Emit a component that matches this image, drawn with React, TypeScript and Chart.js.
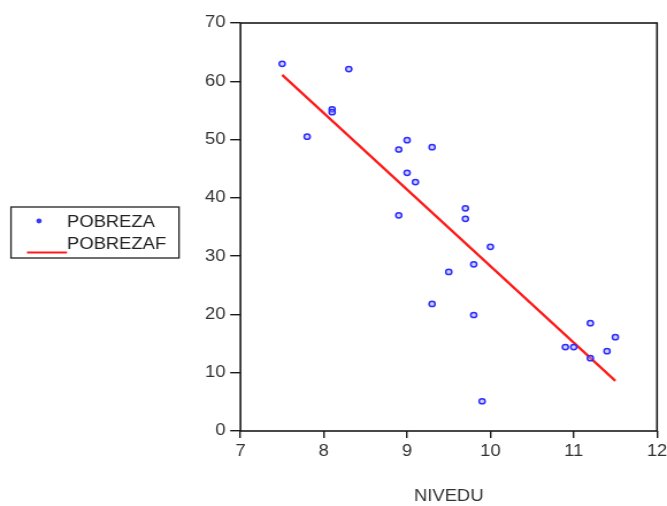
import React, { useEffect, useRef } from "react";
import { Chart, registerables } from "chart.js";

Chart.register(...registerables);

const nivedu = [7.5, 7.8, 8.1, 8.1, 8.3, 8.9, 8.9, 9.0, 9.0, 9.1, 9.3, 9.3, 9.5, 9.7, 9.7, 9.8, 9.8, 9.9, 10.0, 10.9, 11.0, 11.2, 11.2, 11.4, 11.5];
const pobreza = [63.0, 50.5, 55.2, 54.7, 62.1, 48.3, 37.0, 49.9, 44.3, 42.7, 48.7, 21.8, 27.3, 38.2, 36.4, 28.6, 19.9, 5.1, 31.6, 14.4, 14.4, 18.5, 12.5, 13.7, 16.1];
const fitX = [7.5, 11.5];
const fitY = [61.1, 8.6];
const seriesNames = ["POBREZA", "POBREZAF"];
const xTitle = "NIVEDU";

const W = 580;
const H = 506;
const SX = 667 / W;

const framePlugin = {
  id: "frame",
  afterDraw(chart: any) {
    const { ctx, chartArea } = chart;
    ctx.save();
    ctx.strokeStyle = "#1a1a1a";
    ctx.lineWidth = 1.6;
    ctx.strokeRect(chartArea.left, chartArea.top, chartArea.right - chartArea.left, chartArea.bottom - chartArea.top);
    // legend
    const bx = 11 / SX, bx2 = 179 / SX;
    ctx.lineWidth = 1.3;
    ctx.strokeStyle = "#222";
    ctx.strokeRect(bx, 207, bx2 - bx, 51);
    ctx.fillStyle = "#3a3aff";
    ctx.beginPath();
    ctx.arc(39 / SX, 221, 2.4, 0, Math.PI * 2);
    ctx.fill();
    ctx.strokeStyle = "#ff1a1a";
    ctx.lineWidth = 2;
    ctx.beginPath();
    ctx.moveTo(27 / SX, 252.5);
    ctx.lineTo(67 / SX, 252.5);
    ctx.stroke();
    ctx.fillStyle = "#222";
    ctx.font = '16px "Liberation Sans", Arial, sans-serif';
    ctx.textBaseline = "alphabetic";
    ctx.textAlign = "left";
    ctx.fillText(seriesNames[0], 67 / SX, 227);
    ctx.fillText(seriesNames[1], 67 / SX, 249);
    ctx.restore();
  },
};

export default function App() {
  const ref = useRef<HTMLCanvasElement>(null);
  useEffect(() => {
    if (!ref.current) return;
    const chart = new Chart(ref.current, {
      type: "scatter",
      data: {
        datasets: [
          {
            label: seriesNames[0],
            data: nivedu.map((x, i) => ({ x, y: pobreza[i] })),
            pointRadius: 2.6,
            pointBorderWidth: 1.5,
            borderColor: "#2d2dff",
            backgroundColor: "rgba(150,150,255,0.45)",
            showLine: false,
            order: 1,
          },
          {
            label: seriesNames[1],
            data: fitX.map((x, i) => ({ x, y: fitY[i] })),
            showLine: true,
            borderColor: "#ff1a1a",
            borderWidth: 2.2,
            pointRadius: 0,
            order: 2,
          },
        ],
      },
      options: {
        responsive: false,
        animation: false,
        devicePixelRatio: 1,
        layout: { padding: { left: 150, right: 580 - 657 / SX, top: 23, bottom: 0 } },
        plugins: { legend: { display: false }, tooltip: { enabled: false } },
        scales: {
          x: {
            type: "linear",
            min: 7,
            max: 12,
            afterFit: (s: any) => { s.height = 75; s.paddingRight = 0; s.paddingLeft = 0; },
            ticks: {
              stepSize: 1,
              color: "#333",
              padding: 4,
              font: { family: '"Liberation Sans", Arial, sans-serif', size: 16 },
            },
            grid: { drawOnChartArea: false, drawTicks: true, tickLength: 7, color: "#1a1a1a", lineWidth: 1.4 },
            border: { display: false },
            title: {
              display: true,
              text: xTitle,
              color: "#333",
              padding: 0,
              font: { family: '"Liberation Sans", Arial, sans-serif', size: 16 },
            },
          },
          y: {
            type: "linear",
            min: 0,
            max: 70,
            afterFit: (s: any) => { s.width = 240.5 / SX - 150; s.paddingTop = 0; s.paddingBottom = 0; },
            ticks: {
              stepSize: 10,
              color: "#333",
              padding: 4,
              font: { family: '"Liberation Sans", Arial, sans-serif', size: 16 },
            },
            grid: { drawOnChartArea: false, drawTicks: true, tickLength: 9, color: "#1a1a1a", lineWidth: 1.4 },
            border: { display: false },
          },
        },
      },
      plugins: [framePlugin],
    });
    return () => chart.destroy();
  }, []);
  return (
    <div style={{ position: "fixed", left: 0, top: 0, width: 667, height: 506, background: "#fff" }}>
      <canvas ref={ref} width={W} height={H} style={{ width: "667px", height: "506px", display: "block" }} />
    </div>
  );
}
